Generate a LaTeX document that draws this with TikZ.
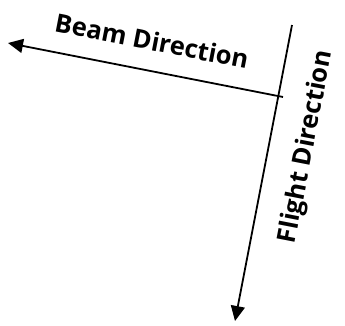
\documentclass[tikz,border=0pt]{standalone}
\usepackage{fontspec}
\setmainfont{Open Sans}
\usetikzlibrary{arrows.meta}
\usetikzlibrary{positioning}
\newlength{\linew}
\setlength{\linew}{1.8pt}
\tikzset{
  dirline/.style={line width=\linew, -{Triangle[length=15pt, width=14pt]}},
  dirlabel/.style={font=\fontsize{25.5}{29}\selectfont\bfseries, inner sep=0pt}
}

\begin{document}
\begin{tikzpicture}[x=1pt, y=-1pt]
\useasboundingbox (0,0) rectangle (345,325);

\coordinate (flighttop) at (292,25);
\coordinate (flightend) at (235,321);
\coordinate (beamstart) at (283,97);
\coordinate (beamend) at (8,43);

\draw[dirline] (flighttop) -- (flightend);
\draw[dirline] (beamstart) -- (beamend);

\node[dirlabel, rotate=-11](beam) at (152,41) {Beam Direction};
\node[dirlabel, rotate=79](flight) at (307,147) {Flight Direction};

\end{tikzpicture}
\end{document}
